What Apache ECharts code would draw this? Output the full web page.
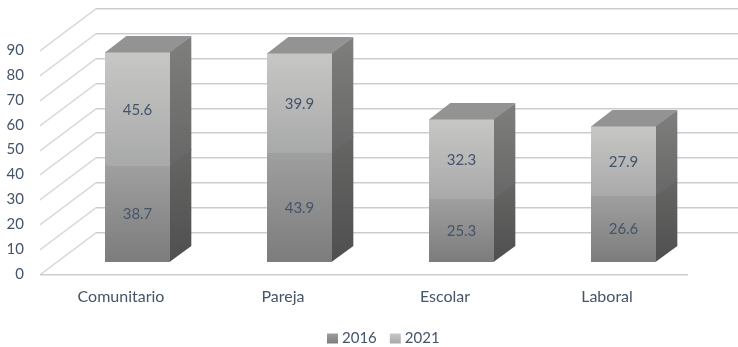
<!DOCTYPE html>
<html><head><meta charset="utf-8">
<style>html,body{margin:0;padding:0;background:#fff}#c{width:738px;height:347px}</style>
<script src="https://cdn.jsdelivr.net/npm/echarts@6/dist/echarts.min.js"></script>
</head><body><div id="c"></div>
<script>
const categories = ['Comunitario', 'Pareja', 'Escolar', 'Laboral'];
const values2016 = [38.7, 43.9, 25.3, 26.6];
const values2021 = [45.6, 39.9, 32.3, 27.9];
const yTicks = [0, 10, 20, 30, 40, 50, 60, 70, 80, 90];

const FONT = 'Lato, "Open Sans", sans-serif';
const TEXT = '#44546a';
const WALL_DX = 56, WALL_DY = 42;          // floor depth projected on screen
const BAR_START = 0.286, BAR_END = 0.667;  // bar's place along that depth
const BAR_W = 64.5;

const grad = (a, b) => new echarts.graphic.LinearGradient(0, 0, 0, 1, [
  { offset: 0, color: a }, { offset: 1, color: b }]);

const chart = echarts.init(document.getElementById('c'), null, { renderer: 'canvas' });

function wallItem(params, api) {
  const v = api.value(0);
  const p = api.coord([0, v]);
  const band = api.size([1, 0])[0];
  const x0 = p[0] - band / 2, y = Math.round(p[1]) + 0.5;
  const xEnd = 738;
  const pts = [[x0, y], [x0 + WALL_DX, y - WALL_DY], [xEnd, y - WALL_DY]];
  const under = pts.map(q => [q[0], q[1] + 1]);
  const children = [
    { type: 'polyline', shape: { points: under }, style: { fill: null, stroke: '#e6e7ea', lineWidth: 1 } },
    { type: 'polyline', shape: { points: pts }, style: { fill: null, stroke: '#cbccd0', lineWidth: 1 } }
  ];
  if (v === 0) {
    const x1 = x0 + band * categories.length;
    children.push({ type: 'line', shape: { x1: x0, y1: y + 1, x2: x1, y2: y + 1 }, style: { stroke: '#e6e7ea', lineWidth: 1 } });
    children.push({ type: 'line', shape: { x1: x0, y1: y, x2: x1, y2: y }, style: { stroke: '#cbccd0', lineWidth: 1 } });
  }
  return { type: 'group', children };
}

function barRenderer(front, side, isTop) {
  return function (params, api) {
    const base = api.value(1), val = api.value(2);
    const a = api.coord([api.value(0), base]);
    const b = api.coord([api.value(0), base + val]);
    const sx = WALL_DX * BAR_START, sy = WALL_DY * BAR_START;
    const dx = WALL_DX * (BAR_END - BAR_START), dy = WALL_DY * (BAR_END - BAR_START);
    const x0 = Math.round(a[0] + sx - BAR_W / 2), x1 = x0 + Math.round(BAR_W);
    const yb = Math.round(a[1] - sy), yt = Math.round(b[1] - sy);
    // the lower block's side runs a little under the upper block to avoid a seam
    const ys = isTop ? yt : yt - 1;
    const children = [
      { type: 'polygon', shape: { points: [[x1 - 0.5, yb], [x1 + dx, yb - dy], [x1 + dx, ys - dy], [x1 - 0.5, ys]] },
        style: { fill: grad(side[0], side[1]) } },
      { type: 'rect', shape: { x: x0, y: yt, width: x1 - x0, height: yb - yt },
        style: { fill: grad(front[0], front[1]) } }
    ];
    if (isTop) {
      children.push({ type: 'polygon', shape: { points: [[x0, yt + 0.5], [x0 + dx, yt - dy], [x1 + dx, yt - dy], [x1, yt + 0.5]] },
        style: { fill: '#939393' } });
    }
    children.push({ type: 'text', style: {
      x: (x0 + x1) / 2, y: (yt + yb) / 2 + (isTop ? 1.5 : 0.5), text: val.toFixed(1), align: 'center', verticalAlign: 'middle',
      font: '15px ' + FONT, fill: TEXT } });
    return { type: 'group', children };
  };
}

const rows2016 = values2016.map((v, i) => [i, 0, v]);
const rows2021 = values2021.map((v, i) => [i, values2016[i], v]);

chart.setOption({
  animation: false,
  backgroundColor: '#fff',
  textStyle: { fontFamily: FONT },
  grid: { left: 40, right: 50, top: 50, bottom: 73, containLabel: false },
  xAxis: { type: 'category', data: categories, axisLine: { show: false }, axisTick: { show: false },
    axisLabel: { color: TEXT, fontSize: 16, fontFamily: FONT, margin: 15 } },
  yAxis: { type: 'value', min: 0, max: 90, interval: 10, splitLine: { show: false }, axisLine: { show: false }, axisTick: { show: false },
    axisLabel: { color: TEXT, fontSize: 15, fontFamily: FONT, margin: 16, padding: [3, 0, 0, 0] } },
  legend: { left: 327, top: 331, padding: 0, itemWidth: 11, itemHeight: 10, itemGap: 13, icon: 'rect',
    data: ['2016', '2021'], textStyle: { color: TEXT, fontSize: 15, fontFamily: FONT, padding: [0, 0, 0, -1] } },
  series: [
    { name: 'wall', type: 'custom', data: yTicks.map(v => [v]), encode: { y: 0 }, renderItem: wallItem, silent: true, z: 1 },
    { name: '2016', type: 'custom', data: rows2016, encode: { x: 0, y: [1, 2] }, z: 2,
      itemStyle: { color: grad('#9f9f9f', '#7c7c7c') },
      renderItem: barRenderer(['#9f9f9f', '#7c7c7c'], ['#666665', '#4f4f4f'], false) },
    { name: '2021', type: 'custom', data: rows2021, encode: { x: 0, y: [1, 2] }, z: 2,
      itemStyle: { color: grad('#c7c7c5', '#a8a9a9') },
      renderItem: barRenderer(['#c7c7c5', '#a8a9a9'], ['#7f7f7d', '#666766'], true) }
  ]
});
</script></body></html>
